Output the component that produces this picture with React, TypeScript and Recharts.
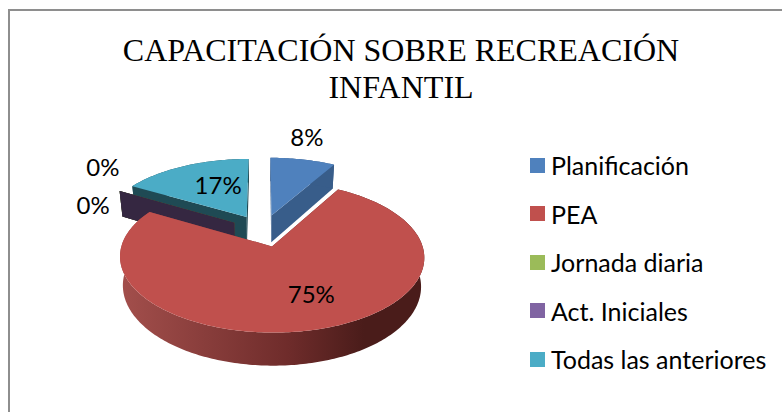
import { PieChart, Pie, Legend } from "recharts";

const names = ["Planificación", "PEA", "Jornada diaria", "Act. Iniciales", "Todas las anteriores"];
const counts = [1, 9, 0, 0, 2];
const chartData = names.map((name, i) => ({ name, value: counts[i] }));

const topColors = ["#4f81bd", "#c0504d", "#9bbb59", "#8064a2", "#4bacc6"];
const sideColors = ["#385d8a", "url(#redSide)", "#5f7530", "#352741", "#1f4a54"];
// paint order, back to front
const layers = [["Todas las anteriores"], ["Planificación", "Jornada diaria", "Act. Iniciales"], ["PEA"]];
// label place on the disc: [distance in radii, degrees clockwise from top]
const labelPolar = [
    [1.71, 12.5],
    [0.86, 160],
    [1.29, 288],
    [1.64, 310],
    [0.8, 335],
];

const CX = 263;
const CY = 230.5;
const RX = 146;
const RY = 69.5;
const PERSPECTIVE = 0.1376;
const DEPTH = 27.5;
const EXPLODE = 0.23;
const RAD = Math.PI / 180;

// disc coordinates (u right, v towards the viewer) to the screen
function project(u: number, v: number, z = 0) {
    const w = 1 - PERSPECTIVE * v;
    const shrink = 1 - 0.02 * z;
    return { x: CX + (RX * u * shrink) / w, y: CY + (RY * v) / w + (DEPTH * z) / w };
}

function toPath(points: { x: number; y: number }[]) {
    return points.map((p, i) => `${i ? "L" : "M"}${p.x.toFixed(2)} ${p.y.toFixed(2)}`).join(" ") + " Z";
}

function Slice3D(props: any) {
    const { startAngle, endAngle, name } = props;
    const index = names.indexOf(name);
    const from = 90 - startAngle;
    const to = 90 - endAngle;
    const mid = (from + to) / 2;
    const du = EXPLODE * Math.sin(mid * RAD);
    const dv = -EXPLODE * Math.cos(mid * RAD);
    const point = (theta: number, r: number, z: number) =>
        project(du + r * Math.sin(theta * RAD), dv - r * Math.cos(theta * RAD), z);

    const rim = (z: number) => {
        const pts = [];
        const steps = Math.max(1, Math.ceil(to - from));
        for (let s = 0; s <= steps; s++) pts.push(point(from + ((to - from) * s) / steps, 1, z));
        return pts;
    };
    const radial = (theta: number) => [point(theta, 0, 0), point(theta, 1, 0), point(theta, 1, 1), point(theta, 0, 1)];
    const side = sideColors[index];
    return (
        <g>
            <path d={toPath(radial(from))} fill={side} />
            <path d={toPath(radial(to))} fill={side} />
            <path d={toPath([...rim(0), ...rim(1).reverse()])} fill={side} />
            <path d={toPath([point(from, 0, 0), ...rim(0)])} fill={topColors[index]} />
        </g>
    );
}

function PercentLabel(props: any) {
    const index = names.indexOf(props.name);
    const [r, theta] = labelPolar[index];
    const p = project(r * Math.sin(theta * RAD), -r * Math.cos(theta * RAD));
    return (
        <text x={p.x} y={p.y} textAnchor="middle" dominantBaseline="central" fontFamily="Lato" fontSize={24} fill="#000">
            {Math.round(props.percent * 100)}%
        </text>
    );
}

function LegendList(props: any) {
    const items = props.payload.filter((entry: any) => entry.type !== "none");
    return (
        <div>
            {items.map((entry: any) => (
                <div key={entry.value} style={{ height: 48.5, display: "flex", alignItems: "center", fontFamily: "Lato", fontSize: 25, color: "#000", whiteSpace: "nowrap" }}>
                    <span style={{ width: 15, height: 15, background: topColors[names.indexOf(entry.value)], marginRight: 6, flex: "none" }} />
                    {entry.value}
                </div>
            ))}
        </div>
    );
}

export default function App() {
    return (
        <div style={{ position: "absolute", left: 0, top: 0, width: 782, height: 412, background: "#fff", overflow: "hidden" }}>
            <div style={{ position: "absolute", left: 8, top: 9, width: 790, height: 420, boxSizing: "border-box", border: "2px solid #8e8e8e" }} />
            <div style={{ position: "absolute", left: 0, top: 32, width: 802, textAlign: "center", fontFamily: "Liberation Serif", fontSize: 32, lineHeight: "37px", color: "#000" }}>
                CAPACITACIÓN SOBRE RECREACIÓN
                <br />
                INFANTIL
            </div>
            <PieChart width={782} height={412} style={{ position: "absolute", left: 0, top: 0 }}>
                <defs>
                    <linearGradient id="redSide" gradientUnits="userSpaceOnUse" x1="120" y1="0" x2="425" y2="0">
                        <stop offset="0" stopColor="#a34f4c" />
                        <stop offset="0.55" stopColor="#6f2c2b" />
                        <stop offset="0.8" stopColor="#4a1c1a" />
                        <stop offset="1" stopColor="#4a1c1a" />
                    </linearGradient>
                </defs>
                {layers.map((layer, i) => (
                    <Pie
                        key={i}
                        data={chartData}
                        dataKey="value"
                        nameKey="name"
                        cx={CX}
                        cy={CY}
                        outerRadius={RX}
                        startAngle={90}
                        endAngle={-270}
                        stroke="none"
                        legendType={i === 0 ? "square" : "none"}
                        isAnimationActive={false}
                        label={i === layers.length - 1 ? PercentLabel : false}
                        labelLine={false}
                        shape={(p: any) => (layer.includes(p.name) ? <Slice3D {...p} /> : <g />)}
                    />
                ))}
                <Legend
                    layout="vertical"
                    itemSorter={null}
                    content={<LegendList />}
                    wrapperStyle={{ position: "absolute", left: 530, top: 141, width: 250 }}
                />
            </PieChart>
        </div>
    );
}
